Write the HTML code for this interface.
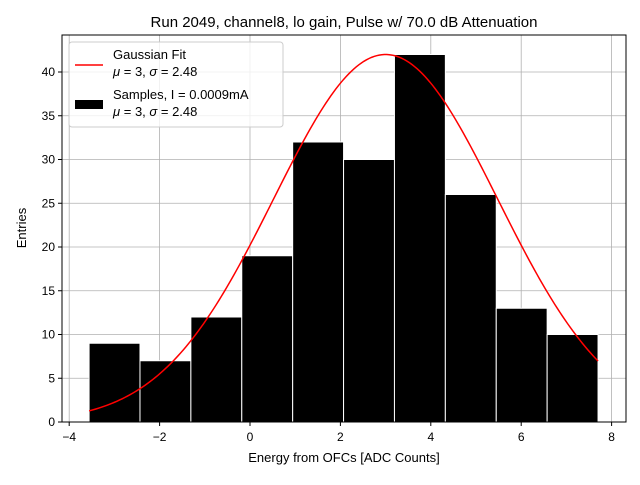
<!DOCTYPE html>
<html><head><meta charset="utf-8"><style>
body{margin:0;background:#fff;}
svg{font-family:"Liberation Sans","DejaVu Sans",sans-serif;}
</style></head><body>
<svg id="chart" width="640" height="480">
<rect width="640" height="480" fill="#fff"/>
<text x="344" y="27" font-size="15" text-anchor="middle">Run 2049, channel8, lo gain, Pulse w/ 70.0 dB Attenuation</text>
<g id="grid"></g>
<g id="bars"></g>
<path id="fit" fill="none" stroke="#ff0000" stroke-width="1.5"/>
<rect x="62" y="35" width="564" height="387" fill="none" stroke="#000" stroke-width="1"/>
<g id="ticks"></g>
<text x="344" y="462" font-size="13" text-anchor="middle">Energy from OFCs [ADC Counts]</text>
<text x="26" y="228" font-size="13" text-anchor="middle" transform="rotate(-90 26 228)">Entries</text>
<g>
<rect x="69" y="42" width="214" height="85" rx="3" fill="#fff" fill-opacity="0.8" stroke="#ccc"/>
<line x1="75" y1="65" x2="103" y2="65" stroke="#ff0000" stroke-width="1.5"/>
<text x="113" y="59" font-size="13">Gaussian Fit</text>
<text x="113" y="76" font-size="13"><tspan font-style="italic">μ</tspan> = 3, <tspan font-style="italic">σ</tspan> = 2.48</text>
<rect x="75" y="100" width="28" height="9" fill="#000"/>
<text x="113" y="99" font-size="13">Samples, I = 0.0009mA</text>
<text x="113" y="116" font-size="13"><tspan font-style="italic">μ</tspan> = 3, <tspan font-style="italic">σ</tspan> = 2.48</text>
</g>
</svg>
<script>
const counts=[9,7,12,19,32,30,42,26,13,10];
const binStart=-3.56, binEnd=7.7;
const xTicks=[-4,-2,0,2,4,6,8];
const yTicks=[0,5,10,15,20,25,30,35,40];
const fitMu=3, fitSigma=2.48, fitAmp=42;
const NS='http://www.w3.org/2000/svg';
const X=v=>250+v*45.2, Y=v=>422-v*8.75;
function mk(t,a,p){const e=document.createElementNS(NS,t);for(const k in a)e.setAttribute(k,a[k]);p.appendChild(e);return e;}
const grid=document.getElementById('grid'),ticks=document.getElementById('ticks'),bars=document.getElementById('bars');
xTicks.forEach(v=>{
 const g=mk('line',{x1:X(v),x2:X(v),y1:35,y2:422,stroke:'#b0b0b0','stroke-width':0.8},grid);
 
 
 const t=mk('line',{x1:X(v),x2:X(v),y1:422,y2:426,stroke:'#000'},ticks);
 
 
 const l=mk('text',{x:X(v),y:441,'font-size':12,'text-anchor':'middle'},ticks);l.textContent=(v<0?'−'+(-v):v);
 
 
});
yTicks.forEach(v=>{
 const g=mk('line',{x1:62,x2:626,y1:Y(v),y2:Y(v),stroke:'#b0b0b0','stroke-width':0.8},grid);
 
 
 const t=mk('line',{x1:58,x2:62,y1:Y(v),y2:Y(v),stroke:'#000'},ticks);
 
 
 const l=mk('text',{x:55,y:Y(v)+4,'font-size':12,'text-anchor':'end'},ticks);l.textContent=v;
 
 
});
const w=(binEnd-binStart)/counts.length;
counts.forEach((c,i)=>{
 const x0=X(binStart+i*w),x1=X(binStart+(i+1)*w);
 const r=mk('rect',{x:x0,y:Y(c),width:x1-x0,height:Y(0)-Y(c),fill:'#000',stroke:'#fff','stroke-width':1},bars);
 
 
});
let d='';
for(let i=0;i<=200;i++){const v=binStart+(binEnd-binStart)*i/200;const f=fitAmp*Math.exp(-((v-fitMu)**2)/(2*fitSigma**2));d+=(i?'L':'M')+X(v).toFixed(2)+','+Y(f).toFixed(2);}
document.getElementById('fit').setAttribute('d',d);
</script>
</body></html>
